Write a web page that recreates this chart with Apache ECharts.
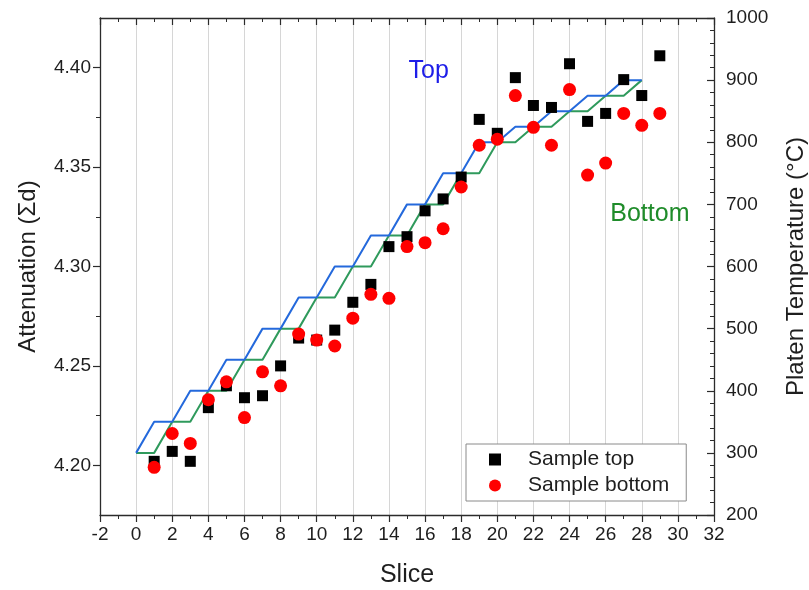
<!DOCTYPE html>
<html>
<head>
<meta charset="utf-8">
<script src="https://cdn.jsdelivr.net/npm/echarts@6/dist/echarts.min.js"></script>
<style>
  html, body { margin: 0; padding: 0; background: #fff; }
  #chart { width: 809px; height: 590px; }
</style>
</head>
<body>
<div id="chart"></div>
<script>
// Slice numbers for the sample measurements
const slices = [1, 2, 3, 4, 5, 6, 7, 8, 9, 10, 11, 12, 13, 14, 15, 16, 17, 18, 19, 20, 21, 22, 23, 24, 25, 26, 27, 28, 29];
// Attenuation (Σd) per slice
const sampleTop = [4.202, 4.207, 4.202, 4.229, 4.240, 4.234, 4.235, 4.250, 4.264, 4.263,
                   4.268, 4.282, 4.291, 4.310, 4.315, 4.328, 4.334, 4.345, 4.374, 4.367,
                   4.395, 4.381, 4.380, 4.402, 4.373, 4.377, 4.394, 4.386, 4.406];
const sampleBottom = [4.199, 4.216, 4.211, 4.233, 4.242, 4.224, 4.247, 4.240, 4.266, 4.263,
                      4.260, 4.274, 4.286, 4.284, 4.310, 4.312, 4.319, 4.340, 4.361, 4.364,
                      4.386, 4.370, 4.361, 4.389, 4.346, 4.352, 4.377, 4.371, 4.377];
// Platen temperature profiles (°C) at slice positions 0..28
const platenSlices = [0, 1, 2, 3, 4, 5, 6, 7, 8, 9, 10, 11, 12, 13, 14, 15, 16, 17, 18, 19, 20, 21, 22, 23, 24, 25, 26, 27, 28];
const platenTop = [300, 350, 350, 400, 400, 450, 450, 500, 500, 550, 550, 600, 600, 650, 650,
                   700, 700, 750, 750, 800, 800, 825, 825, 850, 850, 875, 875, 900, 900];
const platenBottom = [300, 300, 350, 350, 400, 400, 450, 450, 500, 500, 550, 550, 600, 600, 650,
                      650, 700, 700, 750, 750, 800, 800, 825, 825, 850, 850, 875, 875, 900];
// Axis tick values
const attMajor = [4.20, 4.25, 4.30, 4.35, 4.40];
const attMinor = [4.225, 4.275, 4.325, 4.375];
// Annotation positions (slice, °C)
const topNote = [16.2, 915];
const bottomNote = [28.45, 684];

const FONT = 'Liberation Sans, Arial, sans-serif';
const AX = '#2b2b2b';
const TXT = '#1e1e1e';
const pair = (xs, ys) => xs.map((x, i) => [x, ys[i]]);

const chart = echarts.init(document.getElementById('chart'), null, { renderer: 'canvas' });

const commonX = {
  type: 'value', min: -2, max: 32, interval: 2,
  axisLine: { show: true, onZero: false, lineStyle: { color: AX, width: 1.3 } },
  minorTick: { show: true, splitNumber: 2, length: 4, lineStyle: { color: AX, width: 1 } }
};

chart.setOption({
  animation: false,
  backgroundColor: '#ffffff',
  textStyle: { fontFamily: FONT },
  grid: { left: 100, right: 95, top: 18, bottom: 75, containLabel: false, outerBoundsMode: 'none' },
  legend: {
    data: [
      { name: 'Sample top', icon: 'rect', itemStyle: { opacity: 1 } },
      { name: 'Sample bottom', icon: 'circle', itemStyle: { opacity: 1 } }
    ],
    orient: 'vertical',
    left: 466, top: 444,
    itemWidth: 12, itemHeight: 12, itemGap: 5,
    padding: [5, 17, 5, 23],
    borderColor: '#8a8a8a', borderWidth: 1, backgroundColor: '#ffffff',
    textStyle: { fontSize: 21, color: TXT, fontFamily: FONT, padding: [0, 0, 0, 22] }
  },
  xAxis: [
    Object.assign({}, commonX, {
      position: 'bottom',
      name: 'Slice', nameLocation: 'middle', nameGap: 48,
      nameTextStyle: { fontSize: 25, color: TXT, fontFamily: FONT },
      axisTick: { show: true, length: 7, lineStyle: { color: AX, width: 1.2 } },
      axisLabel: { fontSize: 19, color: TXT, margin: 10, fontFamily: FONT },
      splitLine: { show: true, lineStyle: { color: '#d6d6d6', width: 1 } }
    }),
    Object.assign({}, commonX, {
      position: 'top',
      axisTick: { show: true, inside: true, length: 7, lineStyle: { color: AX, width: 1.2 } },
      minorTick: { show: true, splitNumber: 2, length: 4, lineStyle: { color: AX, width: 1 } },
      axisLabel: { show: false },
      splitLine: { show: false }
    })
  ],
  yAxis: [
    {
      type: 'value', position: 'left', min: 4.175, max: 4.425,
      name: 'Attenuation (Σd)', nameLocation: 'middle', nameGap: 60, nameRotate: 90,
      nameTextStyle: { fontSize: 24, color: TXT, fontFamily: FONT },
      axisLine: { show: true, onZero: false, lineStyle: { color: AX, width: 1.3 } },
      axisTick: { show: true, length: 7, customValues: attMajor, lineStyle: { color: AX, width: 1.2 } },
      axisLabel: { fontSize: 19, color: TXT, margin: 9, customValues: attMajor,
                   formatter: v => v.toFixed(2), fontFamily: FONT },
      splitLine: { show: false }
    },
    {
      type: 'value', position: 'left', min: 4.175, max: 4.425,
      axisLine: { show: false, onZero: false },
      axisTick: { show: true, length: 4, customValues: attMinor, lineStyle: { color: AX, width: 1 } },
      axisLabel: { show: false },
      splitLine: { show: false }
    },
    {
      type: 'value', position: 'right', min: 200, max: 1000, interval: 100,
      name: 'Platen Temperature (°C)', nameLocation: 'middle', nameGap: 70, nameRotate: 90,
      nameTextStyle: { fontSize: 24, color: TXT, fontFamily: FONT },
      axisLine: { show: true, onZero: false, lineStyle: { color: AX, width: 1.3 } },
      axisTick: { show: true, inside: true, length: 7, lineStyle: { color: AX, width: 1.2 } },
      minorTick: { show: true, splitNumber: 5, length: 4, lineStyle: { color: AX, width: 1 } },
      axisLabel: { fontSize: 19, color: TXT, margin: 12, fontFamily: FONT, formatter: v => String(v) },
      splitLine: { show: false }
    }
  ],
  series: [
    {
      name: 'Platen bottom', type: 'line', xAxisIndex: 0, yAxisIndex: 2,
      data: pair(platenSlices, platenBottom), showSymbol: false, silent: true,
      lineStyle: { color: '#2f9a5c', width: 2 }, z: 2
    },
    {
      name: 'Platen top', type: 'line', xAxisIndex: 0, yAxisIndex: 2,
      data: pair(platenSlices, platenTop), showSymbol: false, silent: true,
      lineStyle: { color: '#2469dc', width: 2 }, z: 3
    },
    {
      name: 'Sample top', type: 'scatter', xAxisIndex: 0, yAxisIndex: 0,
      data: pair(slices, sampleTop), symbol: 'rect', symbolSize: 11,
      itemStyle: { color: '#000000', opacity: 1 }, z: 4
    },
    {
      name: 'Sample bottom', type: 'scatter', xAxisIndex: 0, yAxisIndex: 0,
      data: pair(slices, sampleBottom), symbol: 'circle', symbolSize: 13,
      itemStyle: { color: '#ff0000', opacity: 1 }, z: 5
    },
    {
      name: 'notes', type: 'scatter', xAxisIndex: 0, yAxisIndex: 2, silent: true,
      symbolSize: 0, itemStyle: { opacity: 1 },
      data: [
        { value: topNote, label: { formatter: 'Top', color: '#1d1de8' } },
        { value: bottomNote, label: { formatter: 'Bottom', color: '#1f8c2a' } }
      ],
      label: { show: true, position: 'inside', fontSize: 25, fontFamily: FONT, opacity: 1 },
      z: 6
    }
  ]
});
</script>
</body>
</html>
